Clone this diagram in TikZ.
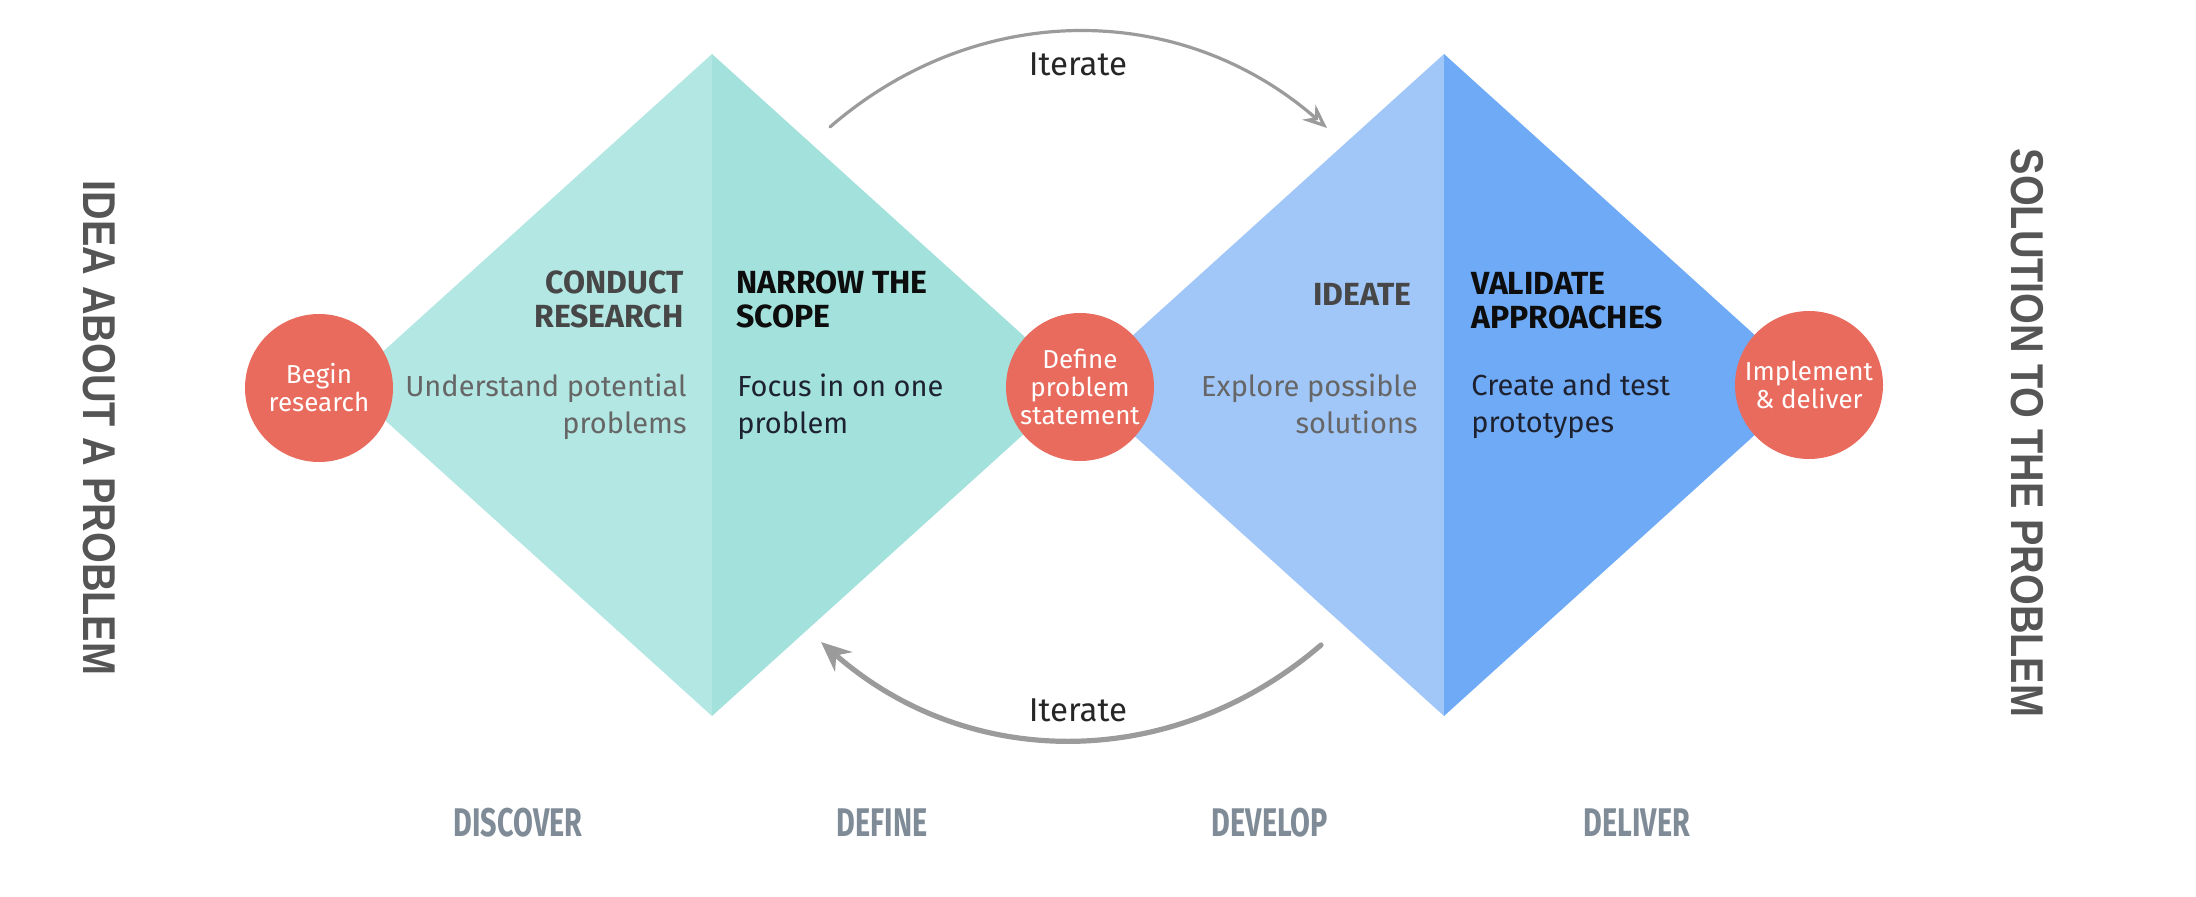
\documentclass[tikz,border=0pt]{standalone}
\usepackage{fontspec}
\setmainfont{Fira Sans}
\newfontfamily\sidefont{Liberation Sans}[FakeStretch=0.86]
\newfontfamily\phasefont{Fira Sans}[FakeStretch=0.72]
\usetikzlibrary{arrows.meta}
\definecolor{tealA}{HTML}{B3E7E3}
\definecolor{tealB}{HTML}{A2E1DC}
\definecolor{blueA}{HTML}{A1C7F8}
\definecolor{blueB}{HTML}{6FAAF6}
\definecolor{coral}{HTML}{E96B5E}
\definecolor{headgray}{HTML}{474747}
\definecolor{bodygray}{HTML}{666666}
\definecolor{bodydark}{HTML}{1E2230}
\definecolor{arcgray}{HTML}{9B9B9B}
\definecolor{phasegray}{HTML}{7F8C97}
\definecolor{sidegray}{HTML}{555555}

\begin{document}
\begin{tikzpicture}[x=0.5pt, y=0.5pt,
    spot/.style={circle, fill=coral, text=white, minimum size=74pt, inner sep=0pt,
      align=center, font=\fontsize{13}{14}\selectfont},
    headtxt/.style={inner sep=0pt, font=\bfseries\fontsize{16}{17}\selectfont},
    bodytxt/.style={inner sep=0pt, font=\fontsize{14.5}{18.5}\selectfont},
    itertxt/.style={text=black!85, font=\fontsize{16.5}{17}\selectfont},
    iterarc/.style={draw=arcgray, line cap=round},
    phase/.style={text=phasegray, font=\phasefont\bfseries\fontsize{20}{20}\selectfont},
    sidetxt/.style={text=sidegray, rotate=-90, font=\sidefont\bfseries\fontsize{23}{23}\selectfont}]
    \useasboundingbox (0,0) rectangle (2196,896);
    % the two diamonds, each split in a light and a dark half
    \foreach \cx/\ca/\cb in {712/tealA/tealB, 1444/blueA/blueB} {
      \fill[\ca] (\cx,842) -- (\cx-366,511) -- (\cx,180) -- cycle;
      \fill[\cb] (\cx,842) -- (\cx+366,511) -- (\cx,180) -- cycle;
    }
    \node[spot] (begin) at (319,508) {Begin\\research};
    \node[spot] (define) at (1080,509) {Define\\problem\\statement};
    \node[spot] (deliver) at (1809,511) {Implement\\\& deliver};

    \node[headtxt, text=headgray, anchor=north east, align=right] (conduct) at (684,626) {CONDUCT\\RESEARCH};
    \node[headtxt, text=black!95, anchor=north west, align=left] (narrow) at (736,626) {NARROW THE\\SCOPE};
    \node[headtxt, text=headgray, anchor=north east] (ideate) at (1412,613) {IDEATE};
    \node[headtxt, text=black!95, anchor=north west, align=left] (validate) at (1471,624) {VALIDATE\\APPROACHES};
    \node[bodytxt, text=bodygray, anchor=north east, align=right] (understand) at (687,523) {Understand potential\\problems};
    \node[bodytxt, text=bodydark, anchor=north west, align=left] (focus) at (737,523) {Focus in on one\\problem};
    \node[bodytxt, text=bodygray, anchor=north east, align=right] (explore) at (1418,523) {Explore possible\\solutions};
    \node[bodytxt, text=bodydark, anchor=north west, align=left] (create) at (1471,523) {Create and test\\prototypes};

    % iterate loops
    \coordinate (topS) at (830,769);
    \coordinate (topE) at (1327,768);
    \coordinate (botS) at (1321,251);
    \coordinate (botE) at (821,254);
    \draw[iterarc, line width=1.6pt, -{Stealth[open, length=12pt, width=10pt]}] (topS) to[bend left=41] (topE);
    \draw[iterarc, line width=2.6pt, -{Stealth[length=15pt, width=13pt]}] (botS) to[bend left=41] (botE);
    \node[itertxt] (iterTop) at (1078,832) {Iterate};
    \node[itertxt] (iterBot) at (1078,186) {Iterate};

    \foreach \x/\t [count=\i] in {518/DISCOVER, 882/DEFINE, 1270/DEVELOP, 1637/DELIVER}
      \node[phase] (phase\i) at (\x,73) {\t};

    \node[sidetxt] (idea) at (99,468) {IDEA ABOUT A PROBLEM};
    \node[sidetxt] (solution) at (2027,463) {SOLUTION TO THE PROBLEM};
\end{tikzpicture}
\end{document}
